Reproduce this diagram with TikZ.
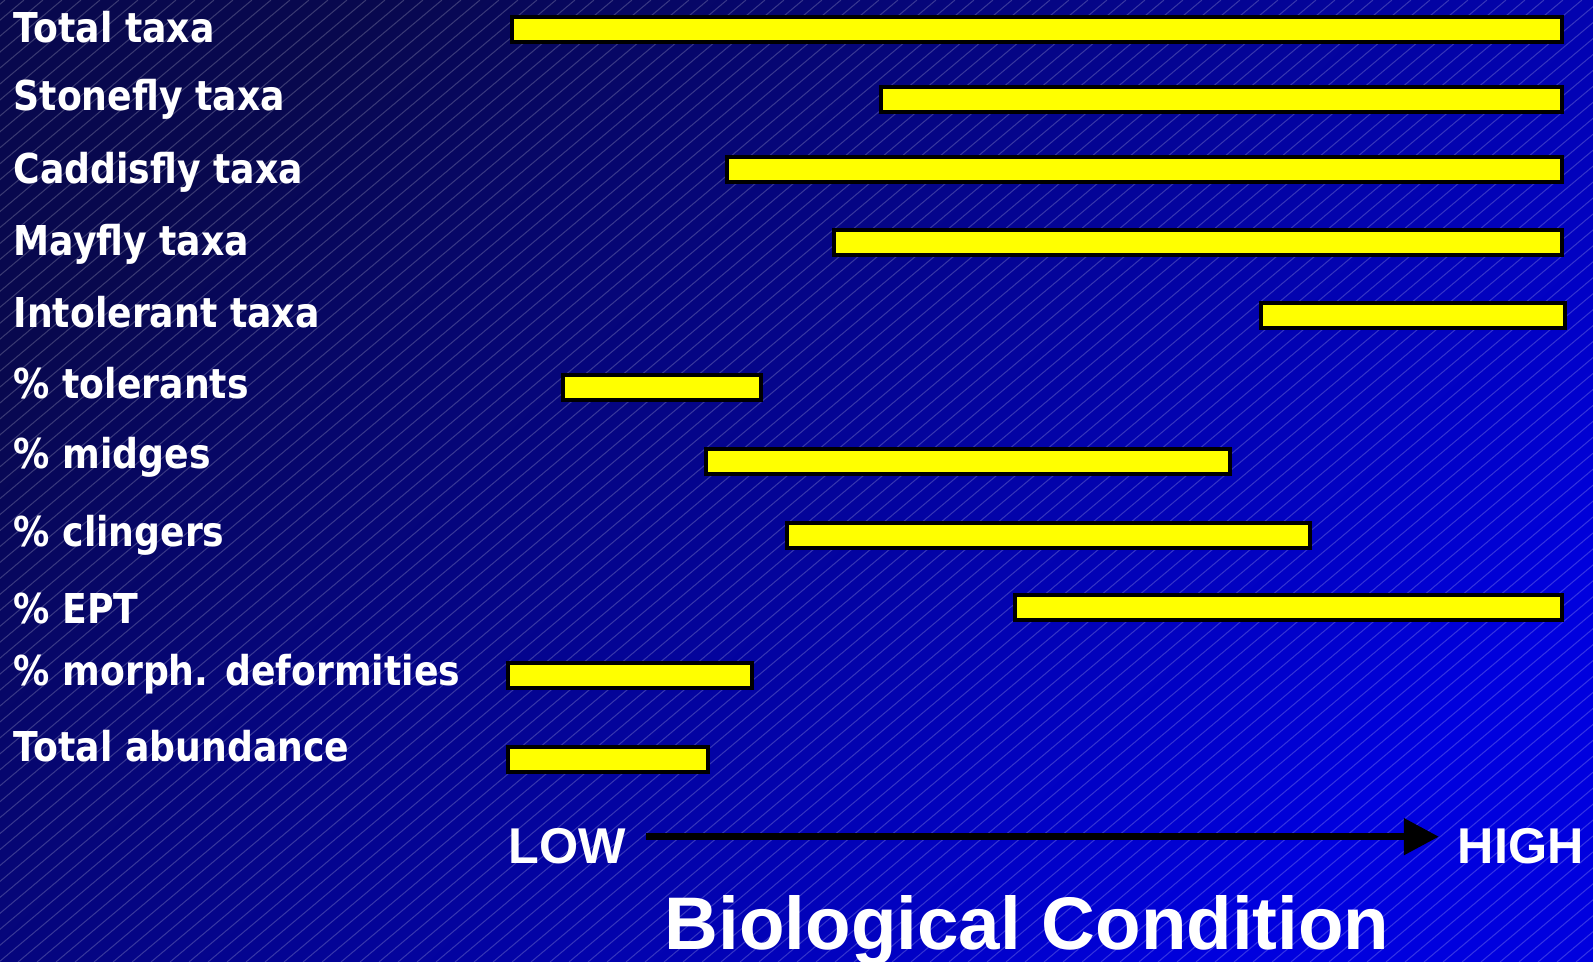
\documentclass[tikz,border=0pt]{standalone}
\usepackage{fontspec}
\usetikzlibrary{arrows.meta}
\newfontfamily\metricfont{DejaVu Sans}[FakeStretch=0.88]
\newfontfamily\axisfont{Liberation Sans}
\definecolor{bgdark}{RGB}{8,8,78}
\definecolor{bglight}{RGB}{0,0,222}
\definecolor{barfill}{RGB}{255,255,0}
\tikzset{
  metric/.style={anchor=base west, inner sep=0pt, text=white,
    font=\metricfont\bfseries\fontsize{11.7}{14}\selectfont},
  scaleend/.style={anchor=base west, inner sep=0pt, text=white,
    font=\axisfont\bfseries\fontsize{14.3}{17}\selectfont},
  bar/.style={fill=barfill, draw=black, line width=1pt},
  hatch/.style={white, opacity=0.2, line width=0.3pt},
  condarrow/.style={-{Triangle[length=0.35cm, width=0.35cm]}, line width=0.075cm, black}
}
\begin{document}
\begin{tikzpicture}[x=0.01cm, y=-0.01cm]

                \useasboundingbox (0,0) rectangle (1593,962);
                \shade[top color=bgdark, bottom color=bglight, shading angle=45] (0,0) rectangle (1593,962);
                \begin{scope}
                    \clip (0,0) rectangle (1593,962);
                    \foreach \x in {-1160,-1141,...,1600}
                        \draw[hatch] (\x,962) -- ++(1146,-962);
                \end{scope}

                \node[metric] (totaltaxa) at (13,43) {Total taxa};
                \node[metric] (stonefly) at (13,111) {Stonefly taxa};
                \node[metric] (caddisfly) at (13,184) {Caddisfly taxa};
                \node[metric] (mayfly) at (13,256) {Mayfly taxa};
                \node[metric] (intolerant) at (13,328) {Intolerant taxa};
                \node[metric] (tolerants) at (13,399) {\% tolerants};
                \node[metric] (midges) at (13,469) {\% midges};
                \node[metric] (clingers) at (13,547) {\% clingers};
                \node[metric] (ept) at (13,624) {\% EPT};
                \node[metric] (deform) at (13,686) {\% morph. deformities};
                \node[metric] (abund) at (13,762) {Total abundance};

                \draw[bar] (512,17) rectangle (1562,42);
                \draw[bar] (881,87) rectangle (1562,112);
                \draw[bar] (727,157) rectangle (1562,182);
                \draw[bar] (834,230) rectangle (1562,255);
                \draw[bar] (1261,303) rectangle (1565,328);
                \draw[bar] (563,375) rectangle (761,400);
                \draw[bar] (706,449) rectangle (1230,474);
                \draw[bar] (787,523) rectangle (1310,548);
                \draw[bar] (1015,595) rectangle (1562,620);
                \draw[bar] (508,663) rectangle (752,688);
                \draw[bar] (508,747) rectangle (708,772);

                \node[scaleend] (low) at (508,864) {LOW};
                \node[scaleend] (high) at (1457,864) {HIGH};
                \draw[condarrow, shorten <=0.19cm, shorten >=0.18cm]
                    ([yshift=0.1cm]low.east) -- ([yshift=0.1cm]high.west);

                \node[anchor=base west, inner sep=0pt, text=white,
                    font=\axisfont\bfseries\fontsize{21.2}{25}\selectfont] (title) at (664,950) {Biological Condition};

\end{tikzpicture}
\end{document}
